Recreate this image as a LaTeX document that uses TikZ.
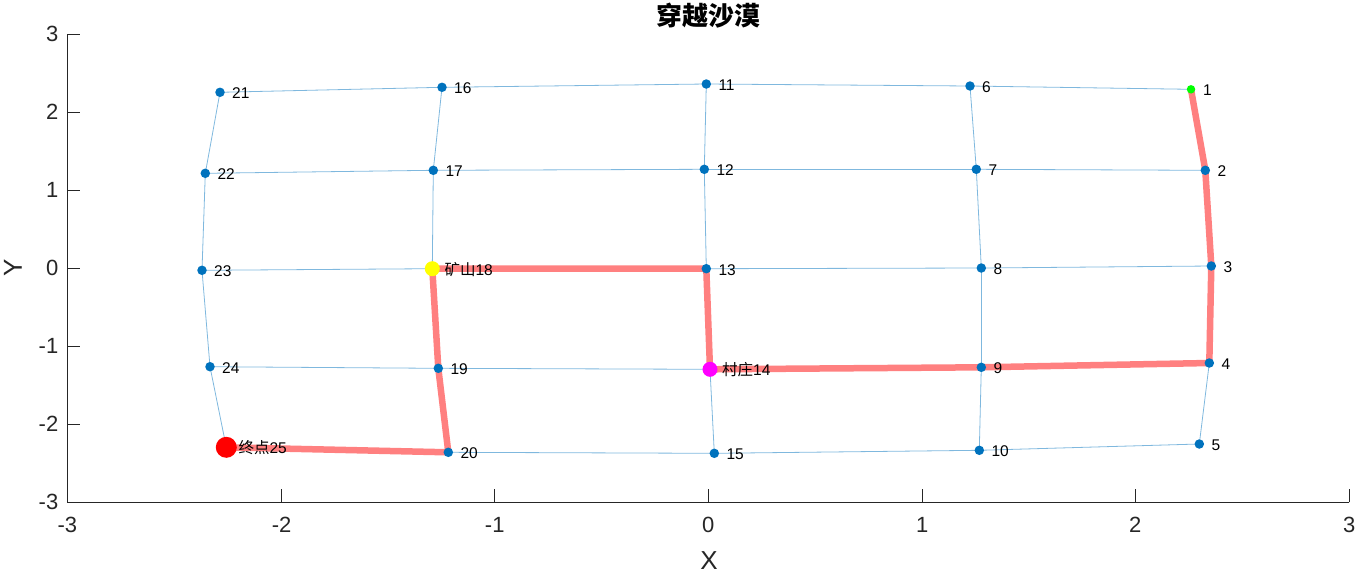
\documentclass[tikz,border=0pt]{standalone}
\usepackage{fontspec}
\setmainfont{Liberation Sans}
\newfontfamily\cjk{Noto Sans CJK SC}
\definecolor{mblue}{RGB}{0,114,189}
\definecolor{axc}{RGB}{38,38,38}
\definecolor{routec}{RGB}{255,128,128}
\begin{document}
\begin{tikzpicture}[x=1pt,y=-1pt,
  edge/.style={draw=mblue, draw opacity=0.5, line width=0.8pt},
  route/.style={draw=routec, line width=6.5pt, line join=round, line cap=round},
  bdot/.style={circle, fill=mblue, inner sep=0pt, minimum size=9.5pt},
  lab/.style={anchor=base west, inner sep=0pt, font=\fontsize{15.5}{15.5}\selectfont, text=black},
  ticklab/.style={inner sep=0pt, font=\fontsize{22}{22}\selectfont, text=axc},
  axline/.style={draw=axc, line width=1.1pt},
  tickmark/.style={draw=axc, line width=0.9pt}]
\useasboundingbox (0,0) rectangle (1357,574);
% node positions
\coordinate (p1) at (1191,89.3);
\coordinate (p2) at (1205.3,170.3);
\coordinate (p3) at (1211.3,266);
\coordinate (p4) at (1209.3,363);
\coordinate (p5) at (1199.3,444);
\coordinate (p6) at (970,86);
\coordinate (p7) at (976.3,169.3);
\coordinate (p8) at (981.3,268);
\coordinate (p9) at (981.3,367.3);
\coordinate (p10) at (979.3,450.3);
\coordinate (p11) at (706.3,84);
\coordinate (p12) at (704.3,169.3);
\coordinate (p13) at (706.3,268.7);
\coordinate (p14) at (710,369.3);
\coordinate (p15) at (714.3,453.3);
\coordinate (p16) at (442,87.3);
\coordinate (p17) at (433.3,170.3);
\coordinate (p18) at (432.3,268.7);
\coordinate (p19) at (438.3,368.3);
\coordinate (p20) at (448.3,452.3);
\coordinate (p21) at (220,92.3);
\coordinate (p22) at (205.3,173.3);
\coordinate (p23) at (202,270.3);
\coordinate (p24) at (210,366.7);
\coordinate (p25) at (226.3,447.3);
% axes
\coordinate (o) at (67.3,502.3);
\coordinate (xe) at (1349.3,502.3);
\coordinate (ye) at (67.3,34.3);
\draw[axline] (xe) -- (o) -- (ye);
\foreach \v/\px in {-3/67.3,-2/281.7,-1/494.7,0/708.3,1/922.3,2/1135.3,3/1349.3}{
  \draw[tickmark] (\px,502.3) -- (\px,489.3);
  \node[ticklab, anchor=north] (xt\v) at (\px,517) {\v};
}
\foreach \v/\py in {3/34.3,2/112.3,1/190.3,0/268.3,-1/346.3,-2/424.3,-3/502.3}{
  \draw[tickmark] (67.3,\py) -- (80.3,\py);
  \node[ticklab, anchor=east] (yt\v) at (58.5,\py) {\v};
}
\node[inner sep=0pt, font=\fontsize{26}{26}\selectfont, text=axc] (xlabel) at (709,560.5) {X};
\node[inner sep=0pt, font=\fontsize{26}{26}\selectfont, text=axc, rotate=90] (ylabel) at (13,268) {Y};
\node[inner sep=0pt, font=\cjk\bfseries\fontsize{26}{26}\selectfont, text=black] (title) at (708,16) {穿越沙漠};
% grid edges
\foreach \a/\b in {21/16,16/11,11/6,6/1, 22/17,17/12,12/7,7/2, 23/18,18/13,13/8,8/3,
  24/19,19/14,14/9,9/4, 25/20,20/15,15/10,10/5,
  21/22,22/23,23/24,24/25, 16/17,17/18,18/19,19/20, 11/12,12/13,13/14,14/15,
  6/7,7/8,8/9,9/10, 1/2,2/3,3/4,4/5}{
  \draw[edge] (p\a) -- (p\b);
}
% route
\draw[route] (p1) -- (p2) -- (p3) -- (p4) -- (p9) -- (p14) -- (p13) -- (p18) -- (p19) -- (p20) -- (p25);
% dots
\foreach \i in {2,3,4,5,6,7,8,9,10,11,12,13,15,16,17,19,20,21,22,23,24}{
  \node[bdot] (n\i) at (p\i) {};
}
\node[circle, fill={rgb,255:red,0;green,255;blue,0}, inner sep=0pt, minimum size=8.5pt] (n1) at (p1) {};
\node[circle, fill={rgb,255:red,255;green,255;blue,0}, inner sep=0pt, minimum size=15pt] (n18) at (p18) {};
\node[circle, fill={rgb,255:red,255;green,0;blue,255}, inner sep=0pt, minimum size=15pt] (n14) at (p14) {};
\node[circle, fill={rgb,255:red,255;green,0;blue,0}, inner sep=0pt, minimum size=21pt] (n25) at (p25) {};
% labels
\foreach \i in {1,2,3,4,5,6,7,8,9,10,11,12,13,15,16,17,19,20,21,22,23,24}{
  \node[lab] (l\i) at ([xshift=12pt,yshift=-6.5pt]p\i) {\i};
}
\node[lab] (l18) at ([xshift=12pt,yshift=-6.5pt]p18) {{\cjk 矿山}18};
\node[lab] (l14) at ([xshift=12pt,yshift=-6.5pt]p14) {{\cjk 村庄}14};
\node[lab] (l25) at ([xshift=12pt,yshift=-6.5pt]p25) {{\cjk 终点}25};
\end{tikzpicture}
\end{document}
